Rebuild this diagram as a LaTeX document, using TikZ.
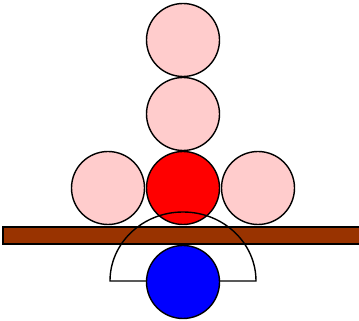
\documentclass[tikz,border=0pt]{standalone}
\usepackage{xcolor}
\usepackage{tikz}
\usetikzlibrary{positioning}

\definecolor{palered}{HTML}{FFCCCC}
\definecolor{barbrown}{HTML}{993300}

\begin{document}
\begin{tikzpicture}[x=1pt, y=1pt, node distance=74pt, on grid,
    ball/.style={circle, draw=black, line width=1.4pt, minimum size=73pt, inner sep=0pt}]
        \useasboundingbox (0,0) rectangle (359,321);

        \node[ball, fill=palered] (top)  at (183,281) {};
        \node[ball, fill=palered] (mid)  [below=of top] {};
        \node[ball, fill=red]     (core) [below=of mid] {};
        \node[ball, fill=palered] (west) [left=75pt of core] {};
        \node[ball, fill=palered] (east) [right=75pt of core] {};

        % plate
        \draw[line width=1.4pt, fill=barbrown] (3,77) rectangle (360,94);

        \coordinate (pivot) at (183,40);
        \draw[line width=1.4pt] (pivot) ++(-73,0) arc[start angle=180, end angle=0, x radius=73, y radius=69] -- cycle;

        \node[ball, fill=blue] (probe) [below=94pt of core] {};
         
    \end{tikzpicture}
\end{document}
